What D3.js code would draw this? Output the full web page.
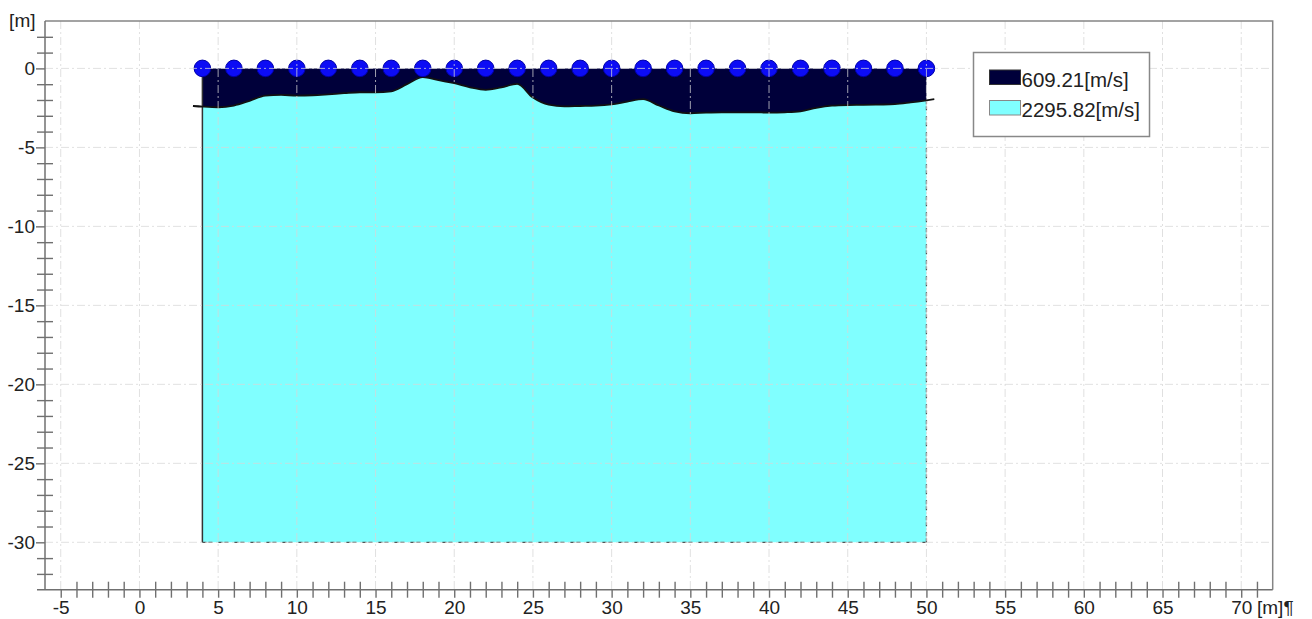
<!DOCTYPE html>
<html>
<head>
<meta charset="utf-8">
<script src="https://cdn.jsdelivr.net/npm/d3@7"></script>
<style>
  html, body { margin: 0; padding: 0; background: #fff; }
  svg { display: block; font-family: "Liberation Sans", Arial, sans-serif; }
</style>
</head>
<body>
<svg id="chart" width="1312" height="619"></svg>
<script>
// ---- data ----
const receiverX = [4, 6, 8, 10, 12, 14, 16, 18, 20, 22, 24, 26, 28, 30, 32, 34, 36, 38, 40, 42, 44, 46, 48, 50];
const boundaryX = [3.4, 4, 5, 6, 7, 8, 9, 10, 11, 12, 13, 14, 15, 16, 17, 18, 19, 20, 21, 22, 23, 24, 25, 26, 27, 28, 29, 30, 31, 32, 33, 34, 35, 36, 37, 38, 39, 40, 41, 42, 43, 44, 45, 46, 47, 48, 49, 50, 50.5];
const boundaryDepth = [-2.38, -2.42, -2.46, -2.35, -2.05, -1.72, -1.68, -1.72, -1.70, -1.64, -1.57, -1.51, -1.52, -1.45, -1.0, -0.55, -0.75, -0.94, -1.2, -1.36, -1.2, -0.98, -1.85, -2.3, -2.4, -2.38, -2.36, -2.28, -2.1, -1.95, -2.35, -2.72, -2.84, -2.8, -2.78, -2.78, -2.78, -2.8, -2.78, -2.72, -2.5, -2.36, -2.32, -2.31, -2.29, -2.26, -2.15, -2.02, -1.95];
const modelLeft = 4, modelRight = 50, modelBottom = -30;
const layerLabels = ["609.21[m/s]", "2295.82[m/s]"];
const layerColors = ["#00003a", "#80ffff"];
const xMajorTicks = [-5, 0, 5, 10, 15, 20, 25, 30, 35, 40, 45, 50, 55, 60, 65, 70];
const yMajorTicks = [0, -5, -10, -15, -20, -25, -30];
const xMinorTicks = d3.range(-5, 72).filter(v => v % 5 !== 0);
const yMinorTicks = d3.range(-32, 3).filter(v => v % 5 !== 0);

// ---- scales ----
const x = d3.scaleLinear().domain([-6, 72]).range([45, 1272.7]);
const y = d3.scaleLinear().domain([3, -33]).range([21, 589.7]);

const svg = d3.select("#chart");

const pts = boundaryX.map((bx, i) => ({ x: bx, d: boundaryDepth[i] }));
const inside = pts.filter(p => p.x >= modelLeft && p.x <= modelRight);

// layer 2 (cyan)
svg.append("path")
  .datum(inside)
  .attr("fill", layerColors[1])
  .attr("d", d3.area().curve(d3.curveMonotoneX)
    .x(p => x(p.x)).y0(y(modelBottom)).y1(p => y(p.d)));

// layer 1 (navy)
svg.append("path")
  .datum(inside)
  .attr("fill", layerColors[0])
  .attr("d", d3.area().curve(d3.curveMonotoneX)
    .x(p => x(p.x)).y0(y(0)).y1(p => y(p.d)));

// model edges
svg.append("line")
  .attr("x1", x(modelLeft)).attr("x2", x(modelLeft))
  .attr("y1", y(0)).attr("y2", y(modelBottom))
  .attr("stroke", "#333").attr("stroke-width", 1.5);
svg.append("line")
  .attr("x1", x(modelLeft)).attr("x2", x(modelRight))
  .attr("y1", y(modelBottom)).attr("y2", y(modelBottom))
  .attr("stroke", "#555").attr("stroke-width", 1.3).attr("stroke-dasharray", "4,2,4,6");
svg.append("line")
  .attr("x1", x(modelRight)).attr("x2", x(modelRight))
  .attr("y1", y(boundaryDepth[boundaryDepth.length - 2])).attr("y2", y(modelBottom))
  .attr("stroke", "#555").attr("stroke-width", 1.3).attr("stroke-dasharray", "4,2,4,6");

// boundary line
svg.append("path")
  .datum(pts)
  .attr("fill", "none")
  .attr("stroke", "#111")
  .attr("stroke-width", 1.8)
  .attr("d", d3.line().curve(d3.curveMonotoneX).x(p => x(p.x)).y(p => y(p.d)));

// receivers
svg.append("g").selectAll("circle")
  .data(receiverX)
  .join("circle")
  .attr("cx", d => x(d)).attr("cy", y(0)).attr("r", 8.3)
  .attr("fill", "#0c0cf5").attr("stroke", "#0000a8").attr("stroke-width", 1);

// grid (on top)
const grid = svg.append("g").attr("stroke", "#d6d6d6").attr("stroke-opacity", 0.75)
  .attr("stroke-width", 1).attr("stroke-dasharray", "8,3,2,3");
grid.selectAll("line.v").data(xMajorTicks).join("line").attr("class", "v")
  .attr("x1", d => x(d)).attr("x2", d => x(d)).attr("y1", y(3)).attr("y2", y(-33));
grid.selectAll("line.h").data(yMajorTicks).join("line").attr("class", "h")
  .attr("y1", d => y(d)).attr("y2", d => y(d)).attr("x1", x(-6)).attr("x2", x(72));

// frame (top & right)
svg.append("path")
  .attr("d", `M${x(-6)},${y(3)}H${x(72)}V${y(-33)}`)
  .attr("fill", "none").attr("stroke", "#858585").attr("stroke-width", 1.5);

function styleAxis(g) {
  g.select(".domain").remove();
  g.selectAll(".tick line").attr("stroke", "#707070").attr("stroke-width", 1.4);
  g.selectAll(".tick text").attr("fill", "#222").attr("font-size", 19)
    .attr("font-family", "'Liberation Sans', Arial, sans-serif");
}
const fmt = d => String(d);

// y axis
svg.append("g").attr("transform", `translate(${x(-6) + 8},0)`)
  .call(d3.axisLeft(y).tickValues(yMinorTicks).tickSize(16).tickFormat(""))
  .call(styleAxis);
svg.append("g").attr("transform", `translate(${x(-6)},0)`)
  .call(d3.axisLeft(y).tickValues(yMajorTicks).tickSize(9).tickPadding(1).tickFormat(fmt))
  .call(styleAxis);
// x axis
svg.append("g").attr("transform", `translate(0,${y(-33) - 8})`)
  .call(d3.axisBottom(x).tickValues(xMinorTicks).tickSize(16).tickFormat(""))
  .call(styleAxis);
svg.append("g").attr("transform", `translate(0,${y(-33)})`)
  .call(d3.axisBottom(x).tickValues(xMajorTicks).tickSize(8).tickPadding(2.5).tickFormat(fmt))
  .call(styleAxis);

// axis lines
svg.append("line").attr("x1", x(-6)).attr("x2", x(-6)).attr("y1", y(3)).attr("y2", y(-33))
  .attr("stroke", "#707070").attr("stroke-width", 1.5);
svg.append("line").attr("x1", x(-6) - 8).attr("x2", x(72)).attr("y1", y(-33)).attr("y2", y(-33))
  .attr("stroke", "#707070").attr("stroke-width", 1.5);

// unit labels
svg.append("text").attr("x", 35.5).attr("y", 27).attr("text-anchor", "end")
  .attr("font-size", 19).attr("fill", "#222").text("[m]");
svg.append("text").attr("x", 1257).attr("y", 613.5).attr("text-anchor", "start")
  .attr("font-size", 19).attr("fill", "#222").text("[m]¶");

// legend
const lg = svg.append("g");
lg.append("rect").attr("x", 973.5).attr("y", 52.5).attr("width", 176).attr("height", 84)
  .attr("fill", "#fff").attr("stroke", "#888").attr("stroke-width", 1.5);
layerLabels.forEach((lab, i) => {
  lg.append("rect").attr("x", 989.5).attr("y", 70 + i * 30.5).attr("width", 31).attr("height", 14.5)
    .attr("fill", layerColors[i]).attr("stroke", i === 0 ? "#333" : "#888").attr("stroke-width", 1);
  lg.append("text").attr("x", 1021.5).attr("y", 86.5 + i * 30)
    .attr("font-size", 20.5).attr("fill", "#222").text(lab);
});
</script>
</body>
</html>
